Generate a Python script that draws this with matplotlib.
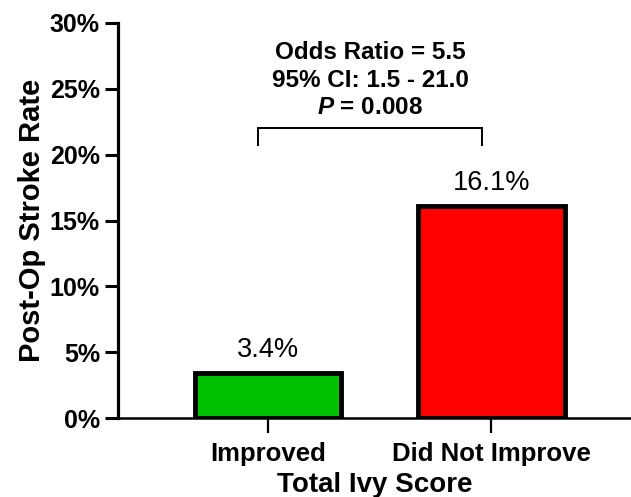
import matplotlib
matplotlib.use("Agg")
import matplotlib.pyplot as plt
from matplotlib.ticker import FuncFormatter

# post-op stroke rate by change in total Ivy score
groups = ["Improved", "Did Not Improve"]
stroke_rate = [3.4, 16.1]
bar_colors = ["#00C000", "#FF0000"]
stat_lines = ["Odds Ratio = 5.5", "95% CI: 1.5 - 21.0", "$P$ = 0.008"]

plt.rcParams.update({"font.family": ["Liberation Sans", "DejaVu Sans"],
                     "mathtext.fontset": "custom",
                     "mathtext.it": "Liberation Sans:italic:bold",
                     "text.color": "black", "axes.edgecolor": "black"})

fig = plt.figure(figsize=(6.31, 4.97), dpi=100)
ax = fig.add_axes([118 / 631, 79 / 497, 513 / 631, 395 / 497])

x = range(len(groups))
ax.bar(x, stroke_rate, width=0.655, color=bar_colors, edgecolor="black",
       linewidth=3.5, zorder=3)
for xi, v in zip(x, stroke_rate):
    ax.text(xi, v + 0.75, "%.1f%%" % v, ha="center", va="bottom", fontsize=19.5)

ax.set_xlim(-0.67, 1.625)
ax.set_ylim(0, 30)
ax.set_yticks(range(0, 31, 5))
ax.yaxis.set_major_formatter(FuncFormatter(lambda v, _: "%d%%" % v))
ax.set_xticks(list(x))
ax.set_xticklabels(groups, fontweight="bold", fontsize=18.5)
for t in ax.get_yticklabels():
    t.set_fontweight("bold")
    t.set_fontsize(18)

ax.spines[["top", "right"]].set_visible(False)
ax.spines["left"].set_linewidth(2.3)
ax.spines["bottom"].set_linewidth(1.8)
ax.tick_params(axis="y", length=9.5, width=2.2, pad=3.5)
ax.tick_params(axis="x", length=10.5, width=1.6, pad=7)

ax.set_ylabel("Post-Op Stroke Rate", fontweight="bold", fontsize=21, labelpad=3)
ax.set_xlabel("Total Ivy Score", fontweight="bold", fontsize=20, labelpad=4)

# comparison bracket with the odds-ratio summary above it
bx0, bx1, by0, by1 = -0.045, 0.96, 20.7, 22.0
ax.plot([bx0, bx0, bx1, bx1], [by0, by1, by1, by0], color="black", lw=1.4,
        solid_joinstyle="miter", clip_on=False)
ax.text((bx0 + bx1) / 2, 22.7, "\n".join(stat_lines), ha="center", va="bottom",
        fontsize=17.5, fontweight="bold", linespacing=1.25)

fig.savefig("out.png", dpi=100)
